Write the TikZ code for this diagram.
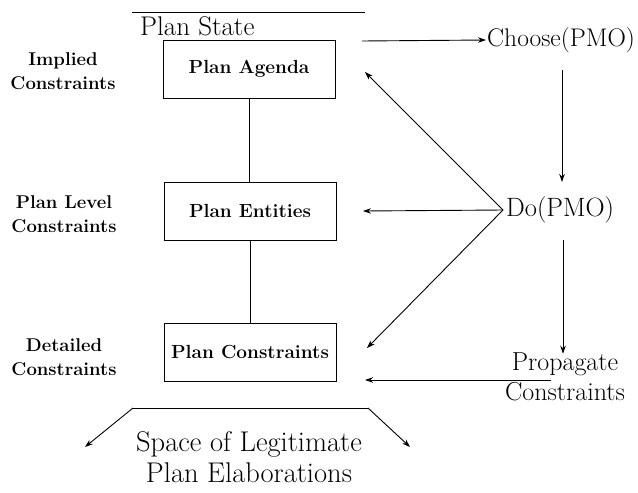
\documentclass[tikz,border=0pt]{standalone}
\usetikzlibrary{arrows.meta}
\begin{document}
\begin{tikzpicture}[x=1pt,y=-1pt,
  big/.style={font=\fontsize{26}{30}\selectfont, inner sep=1pt, align=center},
  lab/.style={font=\fontsize{18.5}{24}\selectfont\bfseries, inner sep=1pt, align=center},
  box/.style={draw, line width=0.9pt, minimum width=172pt, minimum height=58pt, inner sep=2pt, font=\fontsize{19}{23}\selectfont\bfseries},
  ln/.style={line width=0.9pt},
  arr/.style={line width=0.9pt, -{Stealth[length=8pt,width=5.5pt]}}]
\useasboundingbox (0,0) rectangle (638,493);
% plan state
\coordinate (tl1) at (132,12);
\coordinate (tl2) at (365,12);
\draw[ln] (tl1) -- (tl2);
\node[big, font=\fontsize{27}{30}\selectfont, anchor=base west] (ps) at (139,35) {Plan State};
% boxes
\node[box] (ag) at (249,69) {Plan Agenda};
\node[box] (en) at (250,211) {Plan Entities};
\node[box] (co) at (250,352) {Plan Constraints};
\draw[ln] (ag) -- (ag |- en.north);
\draw[ln] (en) -- (co);
% left labels
\node[lab] (l1) at (63,71) {Implied\\Constraints};
\node[lab] (l2) at (64,214) {Plan Level\\Constraints};
\node[lab] (l3) at (64,357) {Detailed\\Constraints};
% right side
\node[big, font=\fontsize{25.5}{30}\selectfont, anchor=west] (ch) at (486,40) {Choose(PMO)};
\node[big, font=\fontsize{26.5}{30}\selectfont, anchor=west] (do) at (505,210) {Do(PMO)};
\node[big] (pr) at (565,377) {Propagate\\Constraints};
\coordinate (chs) at (362,41);
\draw[arr] (chs) -- (ch.west);
\coordinate (c1) at (562,70);
\coordinate (c2) at (562,182);
\draw[arr] (c1) -- (c2);
\coordinate (d1) at (563,240);
\draw[arr] (d1) -- ([yshift=-2pt]pr.north -| d1);
\coordinate (dw) at (503,210);
\coordinate (ta) at (365,72);
\coordinate (te) at (363,211);
\coordinate (tc) at (367,348);
\draw[arr] (dw) -- (ta);
\draw[arr] (dw) -- (te);
\draw[arr] (dw) -- (tc);
\coordinate (p1) at (551,380);
\coordinate (p2) at (365,380);
\draw[arr] (p1) -- (p2);
% bottom
\coordinate (b1) at (133,408);
\coordinate (b2) at (368,408);
\draw[ln] (b1) -- (b2);
\coordinate (bl) at (85,447);
\coordinate (br) at (410,447);
\draw[arr] (b1) -- (bl);
\draw[arr] (b2) -- (br);
\node[big, font=\fontsize{28.5}{31}\selectfont] (sp) at (249,457) {Space of Legitimate\\Plan Elaborations};
\end{tikzpicture}
\end{document}
